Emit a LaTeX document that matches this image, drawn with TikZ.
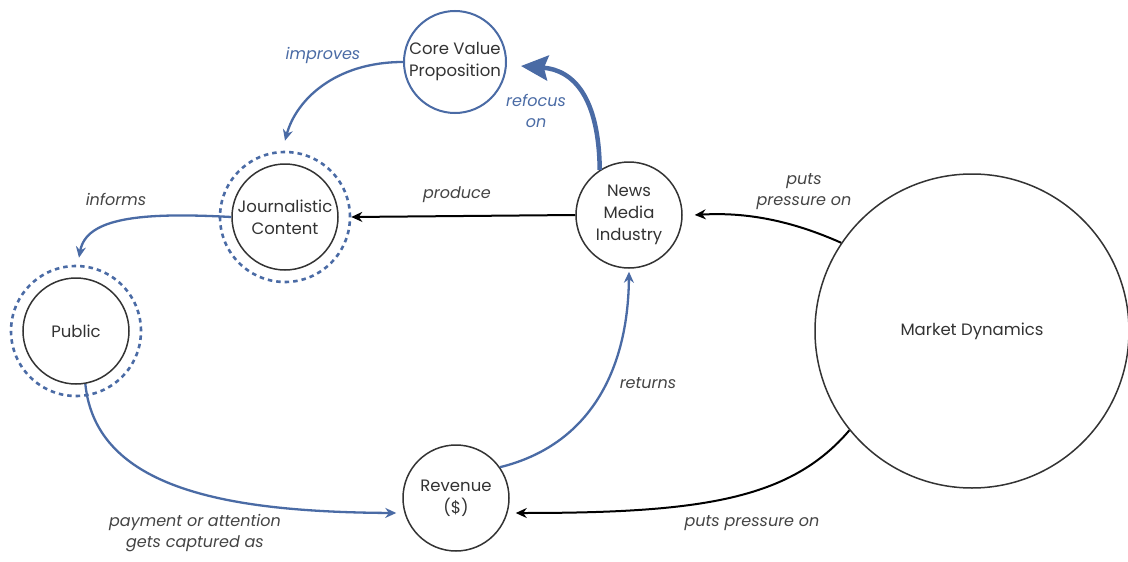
\documentclass[tikz,border=0pt]{standalone}
\usepackage{fontspec}
\setmainfont{Poppins}
\usetikzlibrary{arrows.meta}
\definecolor{flowblue}{HTML}{4A6BA5}
\definecolor{inkgray}{HTML}{333333}
\definecolor{notegray}{HTML}{444444}
\begin{document}
\begin{tikzpicture}[x=1pt,y=-1pt,
  concept/.style={circle,draw=inkgray,line width=1.5pt,minimum size=106pt,inner sep=0pt,
    align=center,text=inkgray,font=\fontsize{16.5}{22}\selectfont},
  ring/.style={circle,draw=flowblue,line width=2.6pt,dash pattern=on 4.5pt off 4pt,minimum size=130pt,inner sep=0pt},
  blueflow/.style={draw=flowblue,line width=2.3pt,-{Stealth[length=11pt,width=10pt]}},
  boldflow/.style={draw=flowblue,line width=4.5pt,-{Stealth[length=27pt,width=25pt,inset=4pt]}},
  darkflow/.style={draw=black,line width=2pt,-{Stealth[length=11pt,width=10pt]}},
  bluenote/.style={text=flowblue,align=center,font=\fontsize{16}{21}\selectfont\itshape},
  graynote/.style={text=notegray,align=center,font=\fontsize{16}{21}\selectfont\itshape}]
\useasboundingbox (0,0) rectangle (1128,562);
\fill[white] (0,0) rectangle (1128,562);

% concept circles
\node[concept,draw=flowblue,line width=2pt,minimum size=102pt] (core) at (455,62) {Core Value\\Proposition};
\node[concept] (jc) at (285,217) {Journalistic\\Content};
\node[ring] (jcring) at (285,217) {};
\node[concept] (pub) at (76,331) {Public};
\node[ring] (pubring) at (76,331) {};
\node[concept] (news) at (629,215) {News\\Media\\Industry};
\node[concept] (rev) at (456,498) {Revenue\\(\$)};
\node[concept,minimum size=314pt] (market) at (972,331) {Market Dynamics};

% connectors (yshift is in canvas direction: positive moves up)
\draw[blueflow] (core.west) .. controls (335,62) and (296,100) .. ([yshift=10pt]jcring.north);
\draw[boldflow] (news.123) .. controls (599,98) and (574,70) .. ([xshift=14pt,yshift=-4pt]core.east);
\draw[darkflow] (news.west) -- (jcring.east);
\draw[blueflow] (jc.west) .. controls (140,212) and (86,218) .. ([xshift=3pt,yshift=7pt]pubring.north);
\draw[blueflow] (pub.-80) .. controls (96,490) and (230,512) .. ([xshift=-6pt]rev.west |- 0,513);
\draw[blueflow] (rev.35) .. controls (590,445) and (628,370) .. ([yshift=-3pt]news.south);
\draw[darkflow] (market.146) .. controls (790,220) and (745,212) .. ([xshift=12pt]news.east);
\draw[darkflow] (market.219) .. controls (790,500) and (700,513) .. ([xshift=6pt]rev.east |- 0,513);

% connector labels
\node[bluenote] (l1) at (323,55) {improves};
\node[bluenote] (l2) at (536,111) {refocus\\on};
\node[graynote] (l3) at (457,195) {produce};
\node[graynote] (l4) at (116,199) {informs};
\node[graynote] (l5) at (804,192) {puts\\pressure on};
\node[graynote] (l6) at (648,383) {returns};
\node[graynote] (l7) at (752,523) {puts pressure on};
\node[graynote] (l8) at (195,533) {payment or attention\\gets captured as};
\end{tikzpicture}
\end{document}
